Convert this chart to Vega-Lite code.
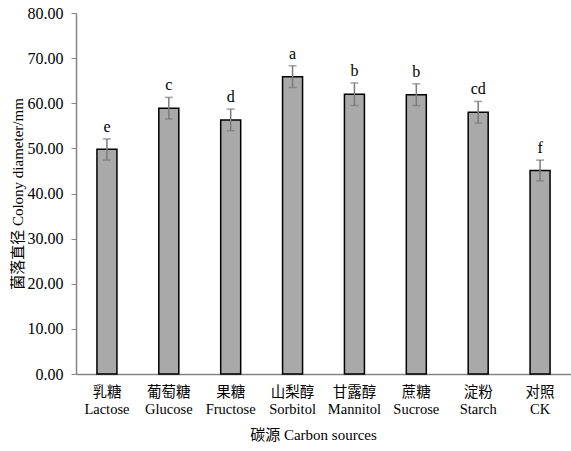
{
  "$schema": "https://vega.github.io/schema/vega-lite/v6.json",
  "autosize": "none",
  "width": 495,
  "height": 361,
  "padding": {"left": 76, "top": 13, "right": 0, "bottom": 77},
  "background": "white",
  "config": {
    "view": {"stroke": null},
    "font": "Liberation Serif",
    "axis": {"grid": false, "labelColor": "black", "titleColor": "black", "titleFontWeight": "normal", "domainColor": "#858585", "tickColor": "#858585", "domainWidth": 1.5}
  },
  "data": {
    "values": [
      {"name": "乳糖|Lactose", "mean": 49.8, "lo": 47.4, "hi": 52.1, "sig": "e"},
      {"name": "葡萄糖|Glucose", "mean": 58.9, "lo": 56.5, "hi": 61.3, "sig": "c"},
      {"name": "果糖|Fructose", "mean": 56.3, "lo": 53.9, "hi": 58.7, "sig": "d"},
      {"name": "山梨醇|Sorbitol", "mean": 65.9, "lo": 63.5, "hi": 68.3, "sig": "a"},
      {"name": "甘露醇|Mannitol", "mean": 62.0, "lo": 59.5, "hi": 64.5, "sig": "b"},
      {"name": "蔗糖|Sucrose", "mean": 61.9, "lo": 59.5, "hi": 64.3, "sig": "b"},
      {"name": "淀粉|Starch", "mean": 58.0, "lo": 55.6, "hi": 60.4, "sig": "cd"},
      {"name": "对照|CK", "mean": 45.1, "lo": 42.8, "hi": 47.4, "sig": "f"}
    ]
  },
  "encoding": {
    "x": {
      "field": "name", "type": "nominal", "sort": null,
      "axis": {
        "labelAngle": 0,
        "labelExpr": "split(datum.label, '|')",
        "labelFont": "Liberation Serif, Noto Sans CJK SC",
        "labelFontSize": 14.5,
        "labelLineHeight": 17,
        "labelPadding": 11,
        "ticks": false,
        "title": "碳源  Carbon sources",
        "titleFont": "Liberation Serif, Noto Sans CJK SC",
        "titleFontSize": 15,
        "titlePadding": 12,
        "titleX": 237
      }
    }
  },
  "layer": [
    {
      "mark": {"type": "bar", "size": 20, "fill": "#a9a9a9", "stroke": "black", "strokeWidth": 1.5},
      "encoding": {
        "y": {
          "field": "mean", "type": "quantitative",
          "scale": {"domain": [0, 80]},
          "axis": {
            "values": [0, 10, 20, 30, 40, 50, 60, 70, 80],
            "format": ".2f",
            "labelFontSize": 16,
            "labelPadding": 8,
            "tickSize": 5,
            "title": "菌落直径 Colony diameter/mm",
            "titleFont": "Liberation Serif, Noto Sans CJK SC",
            "titleFontSize": 15,
            "titlePadding": 2
          }
        }
      }
    },
    {
      "mark": {"type": "rule", "color": "#7a7a7a", "strokeWidth": 1.5},
      "encoding": {"y": {"field": "lo", "type": "quantitative"}, "y2": {"field": "hi"}}
    },
    {
      "mark": {"type": "tick", "color": "#7a7a7a", "size": 8, "thickness": 1.5},
      "encoding": {"y": {"field": "hi", "type": "quantitative"}}
    },
    {
      "mark": {"type": "tick", "color": "#7a7a7a", "size": 8, "thickness": 1.5},
      "encoding": {"y": {"field": "lo", "type": "quantitative"}}
    },
    {
      "mark": {"type": "text", "baseline": "bottom", "dy": -4, "fontSize": 16, "font": "Liberation Serif", "color": "black"},
      "encoding": {"y": {"field": "hi", "type": "quantitative"}, "text": {"field": "sig"}}
    }
  ]
}
